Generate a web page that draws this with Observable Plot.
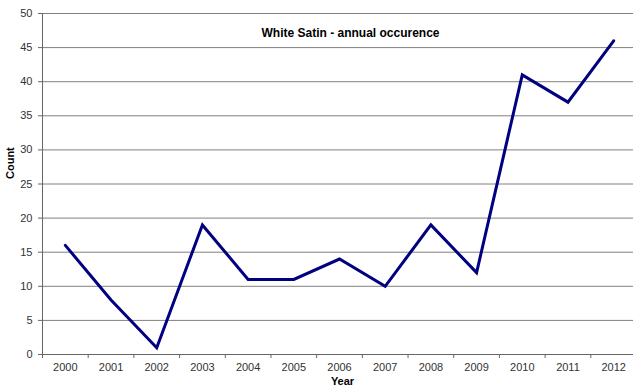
<!DOCTYPE html>
<html>
<head>
<meta charset="utf-8">
<script src="https://cdn.jsdelivr.net/npm/d3@7"></script>
<script src="https://cdn.jsdelivr.net/npm/@observablehq/plot@0.6"></script>
<style>
  html, body { margin: 0; padding: 0; background: #fff; overflow: hidden; }
  #chart svg { display: block; max-width: none !important; }
</style>
</head>
<body>
<div id="chart"></div>
<script>
const years = [2000, 2001, 2002, 2003, 2004, 2005, 2006, 2007, 2008, 2009, 2010, 2011, 2012];
const counts = [16, 8, 1, 19, 11, 11, 14, 10, 19, 12, 41, 37, 46];
const yTicks = [0, 5, 10, 15, 20, 25, 30, 35, 40, 45, 50];
const titleText = "White Satin - annual occurence";
const xLabel = "Year";
const yLabel = "Count";

const data = years.map((y, i) => ({year: y, count: counts[i]}));
const boundaries = [years[0] - 0.5, ...years.map(y => y + 0.5)];

const W = 640, H = 388;
const mL = 42, mR = 4, mT = 13, mB = 34;

const chart = Plot.plot({
  width: W,
  height: H,
  marginLeft: mL,
  marginRight: mR,
  marginTop: mT,
  marginBottom: mB,
  style: {fontFamily: "'Liberation Sans', Arial, sans-serif", fontSize: "11px", color: "#333", background: "#fff", maxWidth: "none"},
  x: {domain: [years[0] - 0.5, years[years.length - 1] + 0.5]},
  y: {domain: [0, 50]},
  marks: [
    Plot.gridY(yTicks, {stroke: "#808080", strokeOpacity: 1, strokeWidth: 1}),
    Plot.axisY(yTicks, {tickSize: 4, tickPadding: 6, stroke: "#666", fill: "#333", label: null}),
    Plot.axisX(years, {tickSize: 0, tickPadding: 9, tickFormat: d => String(d), fill: "#333", label: null}),
    Plot.axisX(boundaries, {tickSize: 4, tickFormat: () => "", stroke: "#666", label: null}),
    Plot.ruleY([0], {stroke: "#666", strokeWidth: 1}),
    Plot.ruleX([boundaries[0]], {stroke: "#666", strokeWidth: 1}),
    Plot.line(data, {x: "year", y: "count", stroke: "#000080", strokeWidth: 3, strokeLinejoin: "miter", strokeMiterlimit: 10}),
    Plot.text([titleText], {frameAnchor: "top", dx: 11, dy: 15, text: d => d, fontWeight: "bold", fontSize: 12, fill: "#000"}),
    Plot.text([xLabel], {frameAnchor: "bottom", dx: 3, dy: 30, text: d => d, fontWeight: "bold", fontSize: 11, fill: "#000"}),
    Plot.text([yLabel], {frameAnchor: "left", dx: -32, dy: -5, rotate: -90, text: d => d, fontWeight: "bold", fontSize: 11, fill: "#000"})
  ]
});
document.getElementById("chart").appendChild(chart);
</script>
</body>
</html>
